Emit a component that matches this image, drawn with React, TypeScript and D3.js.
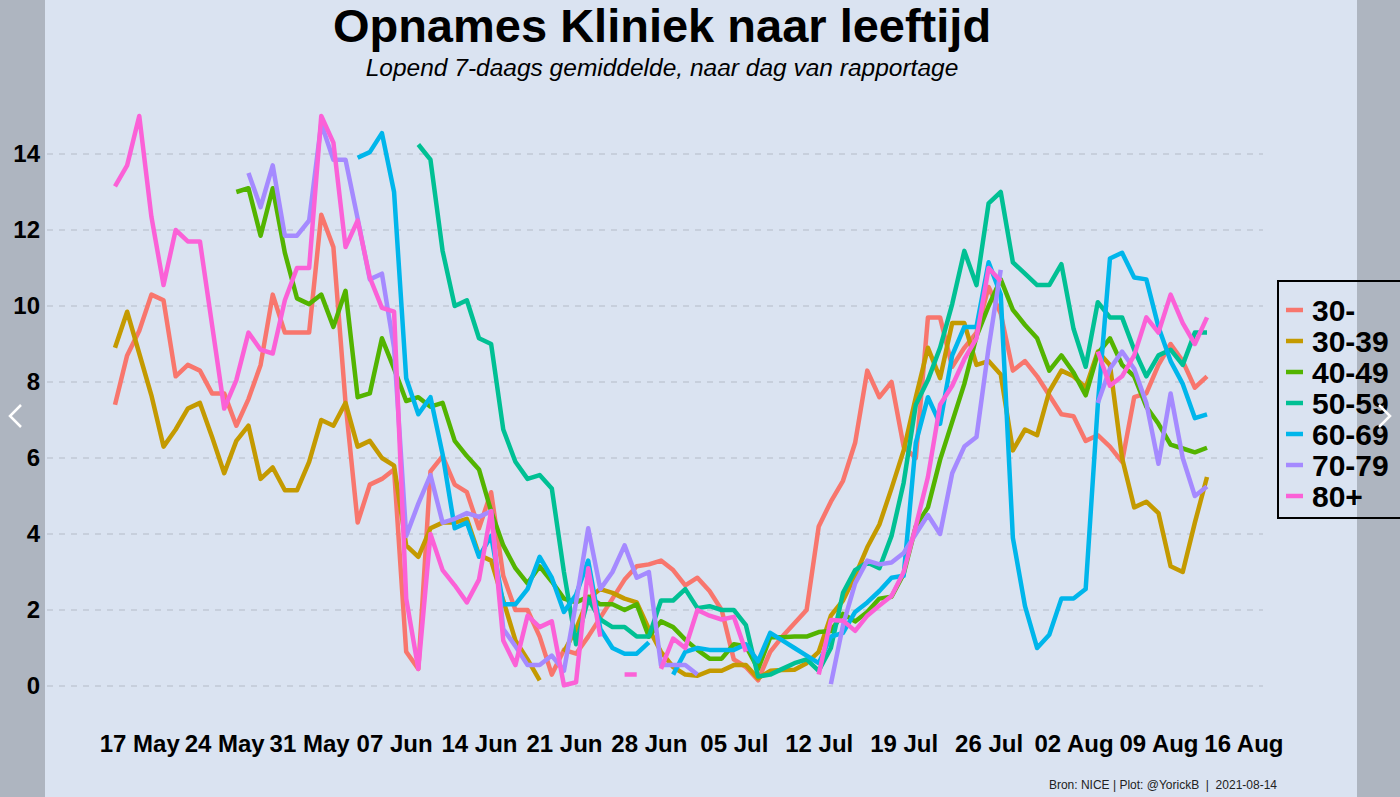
import React, { useEffect, useRef } from 'react';
import * as d3 from 'd3';

// daily 7-day averages, first value is 15 May 2021
const startDate = '2021-05-15';

const ageGroups = ['30-', '30-39', '40-49', '50-59', '60-69', '70-79', '80+'];
const groupColors = ['#F8766D', '#C49A00', '#53B400', '#00C094', '#00B6EB', '#A58AFF', '#FB61D7'];

const opnUnder30 = [
  7.4, 8.7, 9.35, 10.3, 10.15, 8.15, 8.45, 8.3, 7.7, 7.7,
  6.85, 7.55, 8.45, 10.3, 9.3, 9.3, 9.3, 12.4, 11.55, 7.45,
  4.3, 5.3, 5.45, 5.7, 0.9, 0.45, 5.65, 6.05, 5.3, 5.1,
  4.15, 5.1, 2.9, 2.0, 2.0, 1.3, 0.3, 0.95, 0.85, 1.3,
  1.8, 2.3, 2.8, 3.15, 3.2, 3.3, 3.05, 2.65, 2.85, 2.5,
  2.0, 0.7, 0.5, 0.15, 0.9, 1.3, 1.65, 2.0, 4.2, 4.85,
  5.4, 6.4, 8.3, 7.6, 8.0, 6.3, 6.0, 9.7, 9.7, 8.4,
  8.9, 9.3, 10.5, 9.8, 8.3, 8.55, 8.15, 7.65, 7.15, 7.1,
  6.45, 6.6, 6.3, 5.9, 7.6, 7.7, 8.45, 9.0, 8.55, 7.85,
  8.15,
];

const opn30to39 = [
  8.9, 9.85, 8.75, 7.65, 6.3, 6.75, 7.3, 7.45, 6.55, 5.6,
  6.45, 6.85, 5.45, 5.75, 5.15, 5.15, 5.9, 7.0, 6.85, 7.45,
  6.3, 6.45, 6.0, 5.8, 3.7, 3.4, 4.15, 4.3, 4.3, 4.4,
  3.45, 3.3, 2.25, 1.2, 0.7, 0.15, null, 0.9, 1.5, 2.3,
  2.55, 2.45, 2.3, 2.2, 1.5, 0.9, 0.5, 0.3, 0.27, 0.4,
  0.4, 0.55, 0.55, 0.2, 0.4, 0.42, 0.43, 0.6, 0.9, 1.85,
  2.25, 2.9, 3.65, 4.25, 5.2, 6.2, 7.6, 8.9, 8.1, 9.55,
  9.55, 8.45, 8.55, 8.2, 6.2, 6.75, 6.6, 7.75, 8.3, 8.15,
  7.85, 8.8, 8.45, 6.0, 4.7, 4.85, 4.55, 3.15, 3.0, 4.3,
  5.5,
];

const opn40to49 = [
  null, null, null, null, null, null, null, null, null, null,
  13.0, 13.1, 11.85, 13.1, 11.4, 10.2, 10.05, 10.3, 9.45, 10.4,
  7.6, 7.7, 9.15, 8.35, 7.5, 7.6, 7.35, 7.45, 6.45, 6.05,
  5.7, 4.6, 3.7, 3.1, 2.7, 3.15, 2.75, 2.3, 2.2, 2.35,
  2.15, 2.15, 2.0, 2.15, 1.3, 1.7, 1.55, 1.22, 0.95, 0.72,
  0.72, 1.1, 1.05, 0.45, 1.28, 1.28, 1.3, 1.3, 1.42, 1.45,
  1.9, 1.7, 1.95, 2.3, 2.35, 2.95, 4.2, 4.7, 5.95, 6.95,
  7.95, 9.2, 10.0, 10.7, 9.9, 9.5, 9.15, 8.3, 8.7, 8.25,
  7.65, 8.75, 9.15, 8.45, 8.15, 7.35, 6.9, 6.35, 6.25, 6.15,
  6.27,
];

const opn50to59 = [
  null, null, null, null, null, null, null, null, null, null,
  null, null, null, null, null, null, null, null, null, null,
  null, null, null, null, null, 14.25, 13.85, 11.45, 10.0, 10.15,
  9.15, 9.0, 6.75, 5.9, 5.45, 5.55, 5.2, 3.0, 1.1, 2.3,
  1.75, 1.55, 1.55, 1.3, 1.3, 2.25, 2.25, 2.55, 2.05, 2.1,
  2.0, 2.0, 1.6, 0.25, 0.3, 0.45, 0.6, 0.7, 0.4, 1.0,
  2.45, 3.05, 3.25, 3.1, 3.95, 5.35, 7.4, 8.05, 8.9, 10.05,
  11.45, 10.55, 12.7, 13.0, 11.15, 10.85, 10.55, 10.55, 11.1, 9.4,
  8.4, 10.1, 9.7, 9.7, 8.85, 8.15, 8.7, 8.85, 8.45, 9.3,
  9.3,
];

const opn60to69 = [
  null, null, null, null, null, null, null, null, null, null,
  null, null, null, null, null, null, null, null, null, null,
  13.9, 14.05, 14.55, 13.0, 8.1, 7.15, 7.6, 6.1, 4.15, 4.3,
  3.4, 3.95, 2.15, 2.15, 2.55, 3.4, 2.85, 1.95, 2.4, 3.3,
  1.5, 1.0, 0.85, 0.85, 1.15, null, 0.3, 0.9, 1.0, 0.95,
  0.95, 0.95, 1.1, 0.65, 1.4, 1.2, 1.0, 0.8, 0.6, 1.3,
  1.4, 1.95, 2.2, 2.5, 2.85, 2.9, 6.4, 7.6, 6.9, 8.7,
  9.45, 9.45, 11.15, 10.3, 3.9, 2.1, 1.0, 1.35, 2.3, 2.3,
  2.55, 7.4, 11.25, 11.4, 10.75, 10.7, 9.45, 8.55, 7.95, 7.05,
  7.15,
];

const opn70to79 = [
  null, null, null, null, null, null, null, null, null, null,
  null, 13.5, 12.6, 13.7, 11.85, 11.85, 12.25, 14.8, 13.85, 13.85,
  12.3, 10.7, 10.85, 8.9, 3.95, 4.8, 5.55, 4.3, 4.4, 4.55,
  4.45, 4.6, 1.5, 1.05, 0.55, 0.55, 0.8, 0.4, 2.2, 4.15,
  2.55, 3.0, 3.7, 2.85, 3.0, 0.55, 0.55, 0.55, 0.3, null,
  null, null, null, null, null, null, null, null, null, 0.05,
  1.6, 2.7, 3.3, 3.2, 3.25, 3.5, 4.0, 4.5, 4.0, 5.6,
  6.3, 6.55, 8.9, 10.95, null, null, null, null, null, null,
  null, 7.45, 8.35, 8.8, 8.35, 7.45, 5.85, 7.7, 6.0, 5.0,
  5.25,
];

const opn80plus = [
  13.15, 13.7, 15.0, 12.35, 10.55, 12.0, 11.7, 11.7, 9.5, 7.3,
  8.05, 9.3, 8.85, 8.75, 10.15, 11.0, 11.0, 15.0, 14.3, 11.55,
  12.25, 10.75, 9.95, 9.85, 2.3, 0.45, 4.0, 3.05, 2.65, 2.2,
  2.8, 4.6, 1.2, 0.55, 1.85, 1.55, 1.7, 0.02, 0.1, 3.1,
  1.3, null, 0.3, 0.3, null, 0.45, 1.25, 1.0, 2.0, 1.85,
  1.75, 1.82, 0.9, null, null, null, null, null, 0.3, 1.74,
  1.72, 1.45, 1.85, 2.12, 2.37, 3.0, 4.2, 5.5, 7.4, 7.9,
  8.6, 9.15, 11.0, 10.65, null, null, null, null, null, null,
  null, 8.8, 7.9, 8.15, 8.7, 9.7, 9.3, 10.3, 9.55, 9.0,
  9.7,
];

const groupValues = [opnUnder30, opn30to39, opn40to49, opn50to59, opn60to69, opn70to79, opn80plus];

const yTicks = [0, 2, 4, 6, 8, 10, 12, 14];
const xTickDates = [
  '2021-05-17', '2021-05-24', '2021-05-31', '2021-06-07', '2021-06-14', '2021-06-21', '2021-06-28',
  '2021-07-05', '2021-07-12', '2021-07-19', '2021-07-26', '2021-08-02', '2021-08-09', '2021-08-16',
];

const titleText = 'Opnames Kliniek naar leeftijd';
const subtitleText = 'Lopend 7-daags gemiddelde, naar dag van rapportage';
const captionText = 'Bron: NICE | Plot: @YorickB  |  2021-08-14';

const FONT = "'Liberation Sans', Arial, Helvetica, sans-serif";

function AdmissionsChart() {
  const ref = useRef<SVGSVGElement | null>(null);

  useEffect(() => {
    drawChart();
  }, []);

  function drawChart() {
    const svg = d3.select(ref.current);
    svg.selectAll('*').remove();

    const width = 1400;
    const height = 797;
    const bg = '#dae3f1';

    svg.append('rect').attr('width', width).attr('height', height).attr('fill', bg);

    const parse = d3.utcParse('%Y-%m-%d');
    const start = parse(startDate) as Date;
    const nDays = opnUnder30.length;

    const xScale = d3
      .scaleUtc()
      .domain([start, d3.utcDay.offset(start, nDays - 1)])
      .range([115, 1207]);
    const yScale = d3.scaleLinear().domain([0, 14]).range([686, 154]);

    // dashed horizontal grid
    svg
      .append('g')
      .selectAll('line')
      .data(yTicks)
      .enter()
      .append('line')
      .attr('x1', 47)
      .attr('x2', 1263)
      .attr('y1', d => yScale(d))
      .attr('y2', d => yScale(d))
      .attr('stroke', '#b3bbc7')
      .attr('stroke-width', 1.2)
      .attr('stroke-dasharray', '6,6');

    // one line per age group, gaps where there is no value
    const line = d3
      .line<number | null>()
      .defined(d => d !== null)
      .x((d, i) => xScale(d3.utcDay.offset(start, i)))
      .y(d => yScale(d as number));

    svg
      .append('g')
      .selectAll('path')
      .data(groupValues)
      .enter()
      .append('path')
      .attr('d', d => line(d))
      .attr('fill', 'none')
      .attr('stroke', (d, i) => groupColors[i])
      .attr('stroke-width', 4.5)
      .attr('stroke-linejoin', 'round');

    // axes
    const xAxis = svg
      .append('g')
      .attr('transform', 'translate(0,735)')
      .call(
        d3
          .axisBottom(xScale)
          .tickValues(xTickDates.map(s => parse(s) as Date))
          .tickFormat(d => d3.utcFormat('%d %b')(d as Date))
          .tickSize(0)
          .tickPadding(0)
      );
    xAxis.select('.domain').remove();
    xAxis
      .selectAll('text')
      .attr('font-family', FONT)
      .attr('font-weight', 'bold')
      .style('font-size', '24px')
      .attr('fill', '#000');

    const yAxis = svg
      .append('g')
      .attr('transform', 'translate(40,0)')
      .call(d3.axisLeft(yScale).tickValues(yTicks).tickSize(0).tickPadding(0));
    yAxis.select('.domain').remove();
    yAxis
      .selectAll('text')
      .attr('font-family', FONT)
      .attr('font-weight', 'bold')
      .style('font-size', '24px')
      .attr('fill', '#000');

    // titles
    svg
      .append('text')
      .attr('x', 662)
      .attr('y', 42)
      .attr('text-anchor', 'middle')
      .attr('font-family', FONT)
      .attr('font-weight', 'bold')
      .style('font-size', '47px')
      .text(titleText);
    svg
      .append('text')
      .attr('x', 662)
      .attr('y', 76)
      .attr('text-anchor', 'middle')
      .attr('font-family', FONT)
      .attr('font-style', 'italic')
      .style('font-size', '24.5px')
      .text(subtitleText);

    svg
      .append('text')
      .attr('x', 1277)
      .attr('y', 789)
      .attr('text-anchor', 'end')
      .attr('font-family', FONT)
      .style('font-size', '12px')
      .style('white-space', 'pre')
      .attr('fill', '#222')
      .text(captionText);

    // legend
    const legend = svg.append('g');
    legend
      .append('rect')
      .attr('x', 1278)
      .attr('y', 281)
      .attr('width', 150)
      .attr('height', 237)
      .attr('fill', bg)
      .attr('stroke', '#000')
      .attr('stroke-width', 2);
    const items = legend
      .selectAll('g.item')
      .data(ageGroups)
      .enter()
      .append('g')
      .attr('class', 'item')
      .attr('transform', (d, i) => `translate(0,${310 + i * 31})`);
    items
      .append('line')
      .attr('x1', 1286)
      .attr('x2', 1303)
      .attr('stroke', (d, i) => groupColors[i])
      .attr('stroke-width', 4.5);
    items
      .append('text')
      .attr('x', 1312)
      .attr('dy', '0.36em')
      .attr('font-family', FONT)
      .attr('font-weight', 'bold')
      .style('font-size', '30px')
      .text(d => d);

    // darker side bands with the slide arrows
    svg.append('rect').attr('x', 0).attr('y', 0).attr('width', 45).attr('height', height).attr('fill', '#000').attr('opacity', 0.2);
    svg.append('rect').attr('x', 1357).attr('y', 0).attr('width', 43).attr('height', height).attr('fill', '#000').attr('opacity', 0.2);

    svg
      .append('polyline')
      .attr('points', '21,405 10,416 21,427')
      .attr('fill', 'none')
      .attr('stroke', '#fff')
      .attr('stroke-width', 2.5);
    svg
      .append('polyline')
      .attr('points', '1379,405 1390,416 1379,427')
      .attr('fill', 'none')
      .attr('stroke', '#fff')
      .attr('stroke-width', 2.5);
  }

  return (
    <svg
      ref={ref}
      width={1400}
      height={797}
      style={{ position: 'absolute', left: 0, top: 0, display: 'block' }}
    />
  );
}

export default function App() {
  return <AdmissionsChart />;
}
